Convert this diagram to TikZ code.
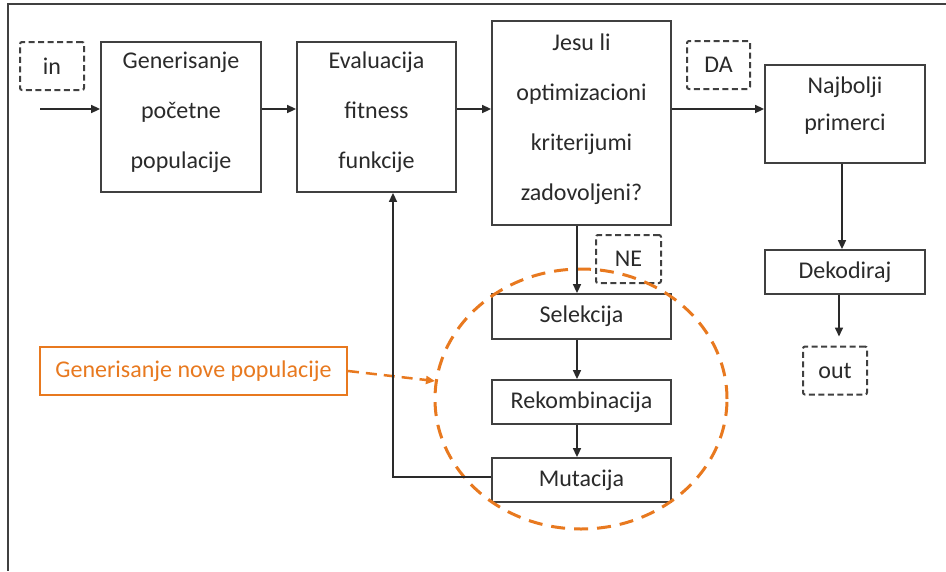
\documentclass[tikz,border=0pt]{standalone}
\usepackage{fontspec}
\setmainfont{Carlito}
\usetikzlibrary{arrows.meta,shapes.geometric}
\definecolor{ink}{HTML}{2A2A2A}
\definecolor{edge}{HTML}{404040}
\definecolor{accent}{HTML}{E8791F}
\begin{document}
\begin{tikzpicture}[x=1pt,y=-1pt,
  font=\fontsize{24}{50}\selectfont,
  every node/.style={text=ink},
  box/.style={draw=edge,line width=1.8pt,rectangle,align=center,inner sep=0pt},
  tagbox/.style={draw=edge,line width=2pt,dash pattern=on 6pt off 3.5pt,rounded corners=2pt,
    rectangle,minimum width=64pt,minimum height=48pt,inner sep=0pt},
  arr/.style={draw=ink,line width=1.6pt,-{Triangle[length=9pt,width=8pt]}},
  note/.style={draw=accent,line width=2pt,text=accent,rectangle,inner sep=0pt},
  ring/.style={draw=accent,line width=3pt,dash pattern=on 14pt off 9pt}]
\useasboundingbox (0,0) rectangle (946,571);
\fill[white] (0,0) rectangle (946,571);
% frame
\draw[edge,line width=2pt] (946,4) -- (8,4) -- (8,571);

% main boxes
\node[box,minimum width=160pt,minimum height=150pt,text depth=14pt] (gen) at (181,117) {Generisanje\\početne\\populacije};
\node[box,minimum width=159pt,minimum height=150pt,text depth=14pt] (eval) at (376.5,117) {Evaluacija\\fitness\\funkcije};
\node[box,minimum width=179pt,minimum height=204pt,text depth=12pt] (test) at (581.5,123) {Jesu li\\optimizacioni\\kriterijumi\\zadovoljeni?};
\node[box,minimum width=160pt,minimum height=98pt,font=\fontsize{24}{37}\selectfont,text depth=20pt] (best) at (845,114) {Najbolji\\primerci};
\node[box,minimum width=160pt,minimum height=44pt] (dec) at (845,272) {Dekodiraj};
\node[box,minimum width=179pt,minimum height=45pt] (sel) at (581.5,316.5) {Selekcija};
\node[box,minimum width=179pt,minimum height=44pt] (rek) at (581.5,402) {Rekombinacija};
\node[box,minimum width=179pt,minimum height=44pt] (mut) at (581.5,480) {Mutacija};

% dashed tags
\node[tagbox] (in) at (52,66) {in};
\node[tagbox,minimum width=63pt] (da) at (718.5,65) {DA};
\node[tagbox,minimum width=65pt] (ne) at (628.5,259) {NE};
\node[tagbox] (out) at (835,370.5) {out};

% orange annotation
\node[note,minimum width=307pt,minimum height=48pt] (newpop) at (193.5,371) {Generisanje nove populacije};
\node[ring,ellipse,minimum width=292pt,minimum height=260pt] (group) at (581,399) {};
\coordinate (hit) at (435,381);
\draw[accent,line width=2.5pt,dash pattern=on 11pt off 7pt,-{Triangle[length=9pt,width=8pt]}] (newpop.east) -- (hit);

% connectors
\coordinate (row) at (0,109);
\coordinate (start) at (40,109);
\coordinate (down) at (577,0);
\coordinate (loop) at (393,477);
\draw[arr] (start) -- (gen.west |- row);
\draw[arr] (gen.east |- row) -- (eval.west |- row);
\draw[arr] (eval.east |- row) -- (test.west |- row);
\draw[arr] (test.east |- row) -- (best.west |- row);
\draw[arr] ([xshift=-3pt]best.south) -- ([xshift=-3pt]dec.north);
\draw[arr,shorten >=9pt] ([xshift=-6pt]dec.south) -- ([xshift=-6pt]dec.south |- out.north);
\draw[arr] (test.south -| down) -- (sel.north -| down);
\draw[arr] (sel.south -| down) -- (rek.north -| down);
\draw[arr] (rek.south -| down) -- (mut.north -| down);
\draw[arr] (mut.west |- loop) -- (loop) -- (loop |- eval.south);
\end{tikzpicture}
\end{document}
